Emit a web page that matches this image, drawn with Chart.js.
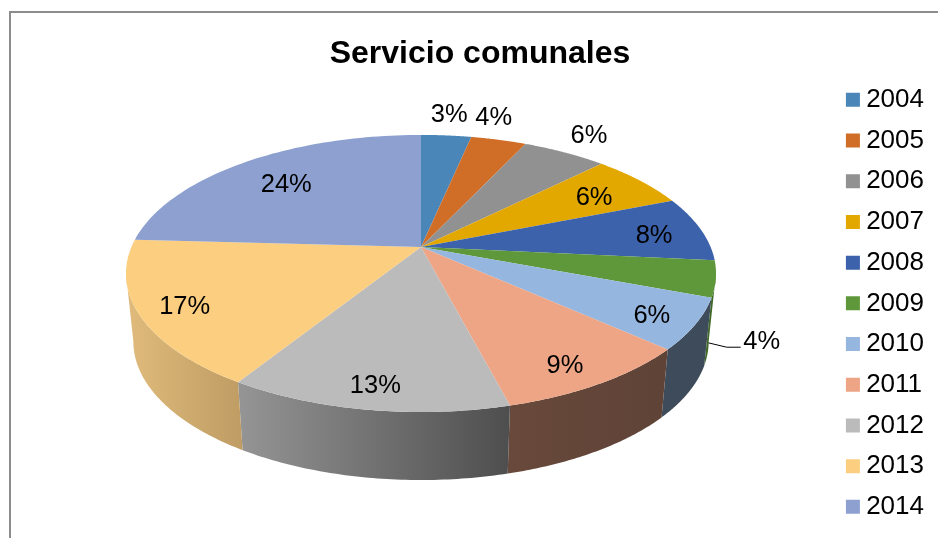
<!DOCTYPE html>
<html>
<head>
<meta charset="utf-8">
<title>Servicio comunales</title>
<script src="https://cdn.jsdelivr.net/npm/chart.js@4"></script>
<style>
body{margin:0;background:#fff;}
#wrap{position:relative;width:938px;height:538px;overflow:hidden;}
#frame{position:absolute;left:9px;top:11px;right:0;bottom:0;border-top:2px solid #8c8c8c;border-left:2px solid #8c8c8c;}
canvas{position:absolute;left:0;top:0;}
</style>
</head>
<body>
<div id="wrap">
<div id="frame"></div>
<canvas id="pieChart" width="938" height="538"></canvas>
</div>
<script>
const years = ["2004","2005","2006","2007","2008","2009","2010","2011","2012","2013","2014"];
const shares = [3.3,3.65,5.55,6.45,7.6,4.2,5.9,9.3,12.9,17,24.1];

const topColors = ["#4A86B8","#D06E28","#919191","#E2A800","#3B62AA","#5F983B","#95B6DE","#EDA585","#BBBBBB","#FBCE80","#8DA0D0"];
const sideStart = ["#2c5070","#7d4218","#575757","#886500","#233b66","#3f6a25","#3D4B5A","#68493B","#959595","#E0BB7C","#55607d"];
const sideEnd = ["#2c5070","#7d4218","#575757","#886500","#233b66","#3f6a25","#3D4B5A","#5F4337","#4E4E4E","#BE9C63","#55607d"];

// where each % sits: radius as a share of the pie, nudge from the slice middle in degrees
const labelRadius = [1.25,1.246,1.224,.765,.826,1.207,.86,.863,.868,.853,.736];
const labelTurn = [-.4,-4.1,-.6,.8,1.2,17.5,.9,1.7,0,-.5,-.7];

// perspective of the tilted disc
const tilt = {cx:421, cy:247, rx:289.6, ry:133.5, p:.191, depth:68, baseScale:.975};

function project(angle, r){
    const X = r*Math.cos(angle), Y = r*Math.sin(angle);
    const w = 1 - tilt.p*Y;
    return {x:tilt.cx + tilt.rx*X/w, y:tilt.cy + tilt.ry*Y/w};
}

function projectBase(angle){
    const pt = project(angle,1);
    return {x:tilt.cx + (pt.x-tilt.cx)*tilt.baseScale, y:pt.y + tilt.depth};
}

function rimPoints(from, to, fn){
    const pts = [];
    const steps = 60;
    for(let i=0;i<=steps;i++){
        pts.push(fn(from + (to-from)*i/steps, 1));
    }
    return pts;
}

const tiltedPie = {
    id:"tiltedPie",
    beforeDatasetsDraw(chart){
        const ctx = chart.ctx;
        const arcs = chart.getDatasetMeta(0).data;

        // side wall, only the part between the left and right outline of the disc
        const frontFrom = Math.asin(tilt.p), frontTo = Math.PI - frontFrom;
        arcs.forEach((arc,i)=>{
            const from = Math.max(arc.startAngle,frontFrom);
            const to = Math.min(arc.endAngle,frontTo);
            if(to<=from) return;
            const upper = rimPoints(from,to,project);
            const lower = rimPoints(from,to,projectBase);
            const xs = upper.concat(lower).map(p=>p.x);
            const grad = ctx.createLinearGradient(Math.min(...xs),0,Math.max(...xs),0);
            grad.addColorStop(0,sideStart[i]);
            grad.addColorStop(1,sideEnd[i]);
            ctx.beginPath();
            upper.forEach((p,n)=>n ? ctx.lineTo(p.x,p.y) : ctx.moveTo(p.x,p.y));
            lower.reverse().forEach(p=>ctx.lineTo(p.x,p.y));
            ctx.closePath();
            ctx.fillStyle = grad;
            ctx.fill();
        });

        arcs.forEach((arc,i)=>{
            ctx.beginPath();
            ctx.moveTo(tilt.cx,tilt.cy);
            rimPoints(arc.startAngle,arc.endAngle,project).forEach(p=>ctx.lineTo(p.x,p.y));
            ctx.closePath();
            ctx.fillStyle = topColors[i];
            ctx.fill();
        });

        // labels
        const total = shares.reduce((a,b)=>a+b,0);
        ctx.fillStyle = "#000";
        ctx.font = "25.5px 'Liberation Sans'";
        ctx.textAlign = "center";
        ctx.textBaseline = "middle";
        arcs.forEach((arc,i)=>{
            const mid = (arc.startAngle+arc.endAngle)/2;
            const pos = project(mid + labelTurn[i]*Math.PI/180, labelRadius[i]);
            ctx.fillText(Math.round(shares[i]/total*100)+"%",pos.x,pos.y+2);

            // only the small 2009 slice sits outside with a leader line
            if(years[i]==="2009"){
                const start = projectBase(mid);
                ctx.beginPath();
                ctx.moveTo(start.x,start.y-4);
                ctx.lineTo(pos.x-35,pos.y+7);
                ctx.lineTo(pos.x-21,pos.y+7);
                ctx.strokeStyle = "#000";
                ctx.lineWidth = 1;
                ctx.stroke();
            }
        });
        return false;
    }
};

const pieChart = new Chart(document.getElementById("pieChart"),{
    type:"pie",
    data:{
        labels:years,
        datasets:[{
            data:shares,
            backgroundColor:topColors,
            borderWidth:0
        }]
    },
    options:{
        responsive:false,
        animation:false,
        layout:{padding:{left:26,right:4,top:0,bottom:3}},
        plugins:{
            tooltip:{enabled:false},
            title:{
                display:true,
                text:"Servicio comunales",
                color:"#000",
                font:{family:"'Liberation Sans'",size:32,weight:"bold",lineHeight:1.1},
                padding:{top:36.5,bottom:0}
            },
            legend:{
                position:"right",
                fullSize:false,
                labels:{
                    color:"#000",
                    font:{family:"'Liberation Sans'",size:26},
                    usePointStyle:true,
                    pointStyle:"rect",
                    boxWidth:.5,
                    boxHeight:14,
                    padding:14.7
                }
            }
        }
    },
    plugins:[tiltedPie]
});
</script>
</body>
</html>
